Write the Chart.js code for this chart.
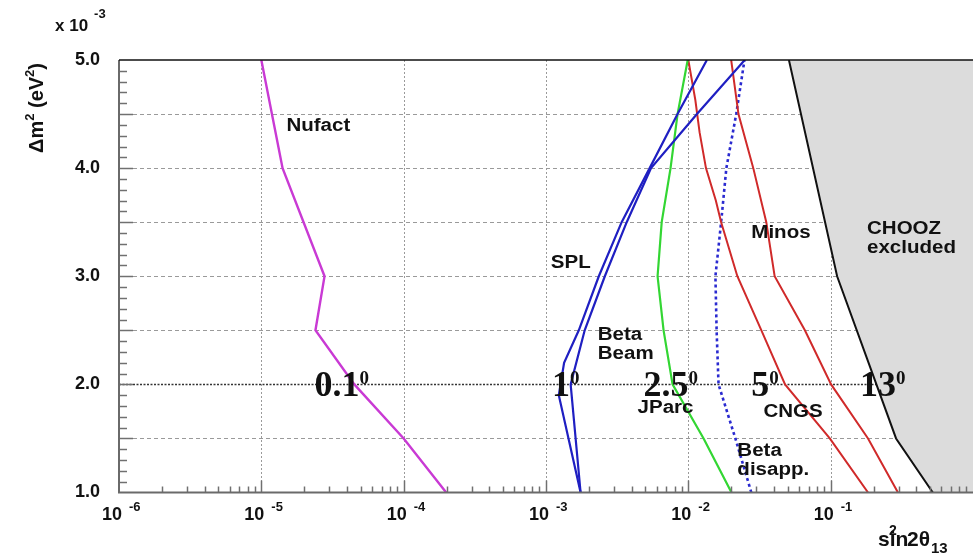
<!DOCTYPE html>
<html>
<head>
<meta charset="utf-8">
<script src="https://cdn.jsdelivr.net/npm/chart.js@4.4.1/dist/chart.umd.min.js"></script>
<style>
html, body { margin: 0; padding: 0; background: #fff; }
#wrap { width: 973px; height: 554px; position: relative; }
</style>
</head>
<body>
<div id="wrap"><canvas id="chart"></canvas></div>
<script>
// sin^2(2theta13) sensitivity of future experiments vs delta m^2 (x 1e-3 eV^2)

const nufactY = [1.0, 1.5, 2.0, 2.5, 3.0, 4.0, 5.0];
const nufactX = [1.99e-4, 1.0e-4, 4.5e-5, 2.4e-5, 2.78e-5, 1.41e-5, 1.0e-5];

const splY = [1.0, 1.9, 2.2, 2.5, 3.0, 3.5, 4.0, 4.5, 5.0];
const splX = [1.75e-3, 1.23e-3, 1.34e-3, 1.70e-3, 2.35e-3, 3.40e-3, 5.35e-3, 8.4e-3, 1.35e-2];

const betaBeamY = [1.0, 2.0, 2.5, 3.0, 3.5, 4.0, 4.5, 5.0];
const betaBeamX = [1.75e-3, 1.49e-3, 1.87e-3, 2.59e-3, 3.69e-3, 5.47e-3, 1.15e-2, 2.49e-2];

const jparcY = [1.0, 1.5, 2.0, 2.5, 3.0, 3.5, 4.0, 4.5, 5.0];
const jparcX = [2.01e-2, 1.28e-2, 7.75e-3, 6.7e-3, 6.08e-3, 6.5e-3, 7.5e-3, 8.4e-3, 9.9e-3];

const cngsY = [1.0, 1.5, 2.0, 2.5, 3.0, 3.5, 3.7, 4.0, 4.33, 4.63, 5.0];
const cngsX = [0.183, 0.0986, 0.0478, 0.0326, 0.0221, 0.0170, 0.0156, 0.0133, 0.0120, 0.0112, 0.0100];

const minosY = [1.0, 1.5, 2.0, 2.5, 3.0, 3.5, 4.0, 4.5, 5.0];
const minosX = [0.297, 0.183, 0.1007, 0.0659, 0.0404, 0.0353, 0.0286, 0.0225, 0.0200];

const betaDisY = [1.0, 1.5, 2.0, 2.5, 3.0, 3.5, 4.0, 4.5, 5.0];
const betaDisX = [0.0277, 0.0214, 0.0163, 0.0158, 0.0155, 0.0170, 0.0185, 0.0217, 0.0248];

const choozY = [5.0, 3.0, 1.5, 1.0];
const choozX = [0.0509, 0.111, 0.288, 0.522];

// axis ranges
const xMin = 1e-6, xMax = 1;
const yMin = 1.0, yMax = 5.0;

// text on the plot (data coordinates)
const curveLabels = [
    { lines: ['Nufact'], x: 1.50e-5, y: 4.39 },
    { lines: ['SPL'], x: 1.08e-3, y: 3.12 },
    { lines: ['Beta', 'Beam'], x: 2.31e-3, y: 2.46 },
    { lines: ['JParc'], x: 4.4e-3, y: 1.78 },
    { lines: ['CNGS'], x: 0.0337, y: 1.745 },
    { lines: ['Beta', 'disapp.'], x: 0.0221, y: 1.384 },
    { lines: ['Minos'], x: 0.0277, y: 3.40 },
    { lines: ['CHOOZ', 'excluded'], x: 0.180, y: 3.44 }
];
const angleLabels = ['0.1', '1', '2.5', '5', '13'];
const angleLabelX = [2.36e-5, 1.10e-3, 4.85e-3, 0.0277, 0.161];
const angleLabelY = 1.894;

const SANS = '"Liberation Sans", Arial, sans-serif';
const SERIF = '"Liberation Serif", "Times New Roman", serif';

function pts(xs, ys) {
    return xs.map((x, i) => ({ x: x, y: ys[i] }));
}

function curve(label, xs, ys, color, width, dash) {
    return {
        label: label,
        data: pts(xs, ys),
        borderColor: color,
        borderWidth: width,
        borderDash: dash || [],
        pointRadius: 0,
        tension: 0,
        fill: false
    };
}

// draw a run of text pieces (sup/sub handled via dy)
function richText(ctx, x, y, parts) {
    let cx = x;
    for (const p of parts) {
        ctx.font = p.font;
        ctx.fillText(p.t, cx + (p.dx || 0), y + (p.dy || 0));
        cx += ctx.measureText(p.t).width + (p.dx || 0);
    }
    return cx;
}

const decorPlugin = {
    id: 'decor',
    beforeDatasetsDraw(chart) {
        const { ctx, chartArea: a } = chart;
        const xs = chart.scales.x, ys = chart.scales.y;
        ctx.save();
        ctx.lineWidth = 1;
        // vertical dotted grid at decades
        ctx.strokeStyle = '#9a9a9a';
        ctx.setLineDash([2, 2]);
        for (const t of xs.ticks) {
            if (!t.major || t.value <= xMin || t.value >= xMax) continue;
            const px = Math.round(xs.getPixelForValue(t.value)) + 0.5;
            ctx.beginPath();
            ctx.moveTo(px, a.top);
            ctx.lineTo(px, a.bottom);
            ctx.stroke();
        }
        // horizontal dashed grid every 0.5
        for (const t of ys.ticks) {
            const v = Math.round(t.value * 10);
            if (v % 5 !== 0 || t.value <= yMin || t.value >= yMax) continue;
            const py = Math.round(ys.getPixelForValue(t.value)) + 0.5;
            if (v === 20) {
                ctx.strokeStyle = '#333';
                ctx.lineWidth = 1.6;
                ctx.setLineDash([2, 1.5]);
            } else {
                ctx.strokeStyle = '#9a9a9a';
                ctx.lineWidth = 1;
                ctx.setLineDash([4, 3]);
            }
            ctx.beginPath();
            ctx.moveTo(a.left, py);
            ctx.lineTo(a.right, py);
            ctx.stroke();
        }
        ctx.restore();
    },
    afterDatasetsDraw(chart) {
        const { ctx, chartArea: a } = chart;
        const xs = chart.scales.x, ys = chart.scales.y;
        ctx.save();
        ctx.setLineDash([]);

        // inward tick marks
        ctx.strokeStyle = '#707070';
        ctx.lineWidth = 1.5;
        for (const t of xs.ticks) {
            if (t.value <= xMin || t.value >= xMax) continue;
            const px = Math.round(xs.getPixelForValue(t.value)) + 0.5;
            const len = t.major ? 12 : 6;
            ctx.beginPath();
            ctx.moveTo(px, a.bottom);
            ctx.lineTo(px, a.bottom - len);
            ctx.stroke();
        }
        for (const t of ys.ticks) {
            if (t.value <= yMin || t.value >= yMax) continue;
            const py = Math.round(ys.getPixelForValue(t.value)) + 0.5;
            const len = Math.round(t.value * 10) % 5 === 0 ? 14 : 8;
            ctx.beginPath();
            ctx.moveTo(a.left, py);
            ctx.lineTo(a.left + len, py);
            ctx.stroke();
        }

        // frame: gray left/bottom axes, black top edge
        ctx.strokeStyle = '#6a6a6a';
        ctx.lineWidth = 2;
        ctx.beginPath();
        ctx.moveTo(a.left, a.top);
        ctx.lineTo(a.left, a.bottom);
        ctx.lineTo(a.right, a.bottom);
        ctx.stroke();
        ctx.strokeStyle = '#111';
        ctx.lineWidth = 1.5;
        ctx.beginPath();
        ctx.moveTo(a.left, a.top);
        ctx.lineTo(a.right, a.top);
        ctx.stroke();

        ctx.fillStyle = '#111';
        ctx.textBaseline = 'alphabetic';
        ctx.textAlign = 'left';

        // exponents of the x tick labels
        ctx.font = 'bold 13px ' + SANS;
        for (const t of xs.ticks) {
            if (!t.major || t.value >= xMax) continue;
            const e = Math.round(Math.log10(t.value));
            ctx.fillText(String(e), xs.getPixelForValue(t.value) + 10, 511);
        }

        // curve names (slightly widened like the original)
        ctx.textBaseline = 'middle';
        ctx.font = 'bold 18px ' + SANS;
        for (const l of curveLabels) {
            const px = xs.getPixelForValue(l.x);
            const py = ys.getPixelForValue(l.y);
            l.lines.forEach((s, i) => {
                ctx.save();
                ctx.translate(px, py + i * 19.5);
                ctx.scale(1.14, 1);
                ctx.fillText(s, 0, 0);
                ctx.restore();
            });
        }

        // mixing angle labels
        ctx.textBaseline = 'alphabetic';
        const py = ys.getPixelForValue(angleLabelY);
        angleLabels.forEach((s, i) => {
            const px = xs.getPixelForValue(angleLabelX[i]);
            richText(ctx, px, py, [
                { t: s, font: 'bold 36px ' + SERIF },
                { t: '0', font: 'bold 19px ' + SERIF, dy: -12 }
            ]);
        });

        // multiplier above the y axis
        richText(ctx, 55, 31, [
            { t: 'x 10', font: 'bold 17px ' + SANS },
            { t: '-3', font: 'bold 13px ' + SANS, dy: -13, dx: 6 }
        ]);

        // x axis title
        richText(ctx, 878, 546, [
            { t: 'sin', font: 'bold 21px ' + SANS }
        ]);
        richText(ctx, 889, 535, [{ t: '2', font: 'bold 14px ' + SANS }]);
        richText(ctx, 907, 546, [
            { t: '2\u03b8', font: 'bold 21px ' + SANS },
            { t: '13', font: 'bold 15px ' + SANS, dy: 7, dx: 1 }
        ]);

        // y axis title, rotated
        ctx.save();
        ctx.translate(43, 108);
        ctx.rotate(-Math.PI / 2);
        const yParts = [
            { t: '\u0394m', font: 'bold 20px ' + SANS },
            { t: '2', font: 'bold 13px ' + SANS, dy: -9 },
            { t: ' (eV', font: 'bold 20px ' + SANS },
            { t: '2', font: 'bold 13px ' + SANS, dy: -9 },
            { t: ')', font: 'bold 20px ' + SANS }
        ];
        let w = 0;
        for (const p of yParts) { ctx.font = p.font; w += ctx.measureText(p.t).width; }
        richText(ctx, -w / 2, 0, yParts);
        ctx.restore();

        ctx.restore();
    }
};

const choozFill = pts(choozX, choozY).concat([
    { x: xMax, y: yMin },
    { x: xMax, y: yMax }
]);

new Chart(document.getElementById('chart').getContext('2d'), {
    type: 'line',
    data: {
        datasets: [
            curve('Nufact', nufactX, nufactY, '#c93ad4', 2.4),
            curve('SPL', splX, splY, '#1f1fc2', 2.2),
            curve('Beta Beam', betaBeamX, betaBeamY, '#1f1fc2', 2.2),
            curve('JParc', jparcX, jparcY, '#33d633', 2.2),
            curve('CNGS', cngsX, cngsY, '#d02a2a', 2),
            curve('Minos', minosX, minosY, '#d02a2a', 2),
            curve('Beta disapp.', betaDisX, betaDisY, '#2a2ad0', 2.6, [3, 3]),
            curve('CHOOZ', choozX, choozY, '#111111', 2),
            {
                label: 'CHOOZ excluded',
                data: choozFill,
                borderWidth: 0,
                borderColor: 'rgba(0,0,0,0)',
                backgroundColor: '#dcdcdc',
                pointRadius: 0,
                tension: 0,
                fill: 'shape'
            }
        ]
    },
    options: {
        responsive: true,
        maintainAspectRatio: false,
        animation: false,
        layout: { padding: { top: 60, left: 0, right: -2, bottom: 0 } },
        plugins: {
            legend: { display: false },
            tooltip: { enabled: false }
        },
        scales: {
            x: {
                type: 'logarithmic',
                min: xMin,
                max: xMax,
                afterBuildTicks(scale) {
                    const t = [];
                    for (let e = -6; e <= 0; e++) {
                        for (let m = 1; m <= 9; m++) {
                            const v = m * Math.pow(10, e);
                            if (v > xMax * 1.0001) break;
                            t.push({ value: v, major: m === 1 });
                        }
                    }
                    scale.ticks = t;
                },
                afterFit(scale) {
                    scale.height = 61.5;
                    scale.paddingLeft = 0;
                    scale.paddingRight = 0;
                },
                grid: { display: false, drawTicks: false },
                border: { display: false },
                ticks: {
                    autoSkip: false,
                    maxRotation: 0,
                    padding: 12,
                    labelOffset: -7,
                    color: '#111',
                    font: { family: SANS, size: 18, weight: 'bold' },
                    callback: (v, i, ticks) => (ticks[i].major && v < xMax * 0.5 ? '10' : '')
                }
            },
            y: {
                type: 'linear',
                min: yMin,
                max: yMax,
                afterBuildTicks(scale) {
                    const t = [];
                    for (let i = yMin * 10; i <= yMax * 10; i++) {
                        t.push({ value: i / 10, major: i % 10 === 0 });
                    }
                    scale.ticks = t;
                },
                afterFit(scale) {
                    scale.width = 119;
                    scale.paddingTop = 0;
                    scale.paddingBottom = 0;
                },
                grid: { display: false, drawTicks: false },
                border: { display: false },
                ticks: {
                    autoSkip: false,
                    padding: 19,
                    color: '#111',
                    font: { family: SANS, size: 18, weight: 'bold' },
                    callback: v => (Math.abs(v - Math.round(v)) < 1e-6 ? v.toFixed(1) : '')
                }
            }
        }
    },
    plugins: [decorPlugin]
});
</script>
</body>
</html>
